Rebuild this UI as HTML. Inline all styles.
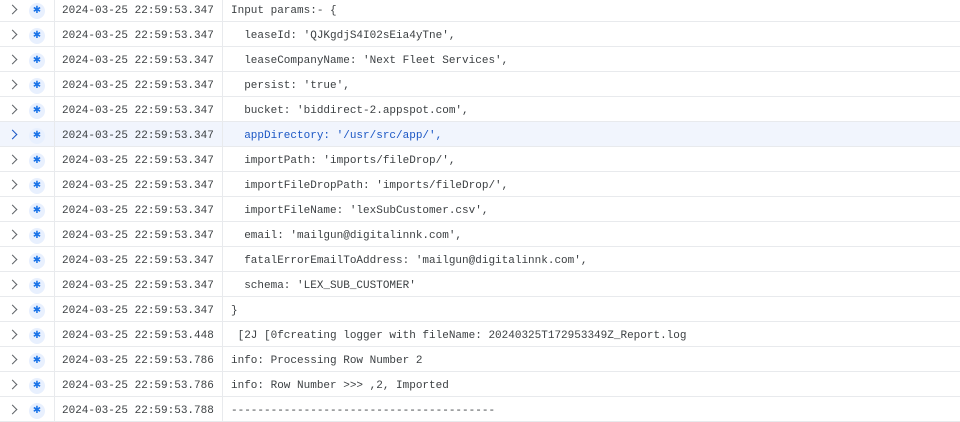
<!DOCTYPE html>
<html><head><style>
body{margin:0;width:960px;height:411px;overflow:hidden;background:#fff;font-family:"Liberation Mono",monospace;font-size:11px;color:#3c4043}
.r{position:absolute;left:0;width:960px;height:24px;border-bottom:1px solid #e8eaed}
.r.h{background:#f1f5fd}
.c{position:absolute;left:9px;top:9px;width:6px;height:6px;border-right:1.5px solid #5f6368;border-top:1.5px solid #5f6368;transform:rotate(45deg)}
.h .c{border-color:#1a56c4}
.i{position:absolute;left:29px;top:6px;width:16px;height:16px;border-radius:50%;background:#e8f0fe;color:#1a73e8;font-size:10px;line-height:16px;text-align:center;font-family:"DejaVu Sans",sans-serif}
.v1{position:absolute;left:54px;top:0;width:1px;height:24px;background:#e8eaed}
.v2{position:absolute;left:222px;top:0;width:1px;height:24px;background:#e8eaed}
.t{position:absolute;left:62px;top:8px;white-space:pre}
.m{position:absolute;left:231px;top:8px;white-space:pre}
.h .m{color:#1a56c4}
</style></head><body>
<div class="r" style="top:-3px"><div class="c"></div><div class="i">✱</div><div class="v1"></div><div class="v2"></div><div class="t">2024-03-25 22:59:53.347</div><div class="m">Input params:- {</div></div>
<div class="r" style="top:22px"><div class="c"></div><div class="i">✱</div><div class="v1"></div><div class="v2"></div><div class="t">2024-03-25 22:59:53.347</div><div class="m">  leaseId: 'QJKgdjS4I02sEia4yTne',</div></div>
<div class="r" style="top:47px"><div class="c"></div><div class="i">✱</div><div class="v1"></div><div class="v2"></div><div class="t">2024-03-25 22:59:53.347</div><div class="m">  leaseCompanyName: 'Next Fleet Services',</div></div>
<div class="r" style="top:72px"><div class="c"></div><div class="i">✱</div><div class="v1"></div><div class="v2"></div><div class="t">2024-03-25 22:59:53.347</div><div class="m">  persist: 'true',</div></div>
<div class="r" style="top:97px"><div class="c"></div><div class="i">✱</div><div class="v1"></div><div class="v2"></div><div class="t">2024-03-25 22:59:53.347</div><div class="m">  bucket: 'biddirect-2.appspot.com',</div></div>
<div class="r h" style="top:122px"><div class="c"></div><div class="i">✱</div><div class="v1"></div><div class="v2"></div><div class="t">2024-03-25 22:59:53.347</div><div class="m">  appDirectory: '/usr/src/app/',</div></div>
<div class="r" style="top:147px"><div class="c"></div><div class="i">✱</div><div class="v1"></div><div class="v2"></div><div class="t">2024-03-25 22:59:53.347</div><div class="m">  importPath: 'imports/fileDrop/',</div></div>
<div class="r" style="top:172px"><div class="c"></div><div class="i">✱</div><div class="v1"></div><div class="v2"></div><div class="t">2024-03-25 22:59:53.347</div><div class="m">  importFileDropPath: 'imports/fileDrop/',</div></div>
<div class="r" style="top:197px"><div class="c"></div><div class="i">✱</div><div class="v1"></div><div class="v2"></div><div class="t">2024-03-25 22:59:53.347</div><div class="m">  importFileName: 'lexSubCustomer.csv',</div></div>
<div class="r" style="top:222px"><div class="c"></div><div class="i">✱</div><div class="v1"></div><div class="v2"></div><div class="t">2024-03-25 22:59:53.347</div><div class="m">  email: 'mailgun@digitalinnk.com',</div></div>
<div class="r" style="top:247px"><div class="c"></div><div class="i">✱</div><div class="v1"></div><div class="v2"></div><div class="t">2024-03-25 22:59:53.347</div><div class="m">  fatalErrorEmailToAddress: 'mailgun@digitalinnk.com',</div></div>
<div class="r" style="top:272px"><div class="c"></div><div class="i">✱</div><div class="v1"></div><div class="v2"></div><div class="t">2024-03-25 22:59:53.347</div><div class="m">  schema: 'LEX_SUB_CUSTOMER'</div></div>
<div class="r" style="top:297px"><div class="c"></div><div class="i">✱</div><div class="v1"></div><div class="v2"></div><div class="t">2024-03-25 22:59:53.347</div><div class="m">}</div></div>
<div class="r" style="top:322px"><div class="c"></div><div class="i">✱</div><div class="v1"></div><div class="v2"></div><div class="t">2024-03-25 22:59:53.448</div><div class="m"> [2J [0fcreating logger with fileName: 20240325T172953349Z_Report.log</div></div>
<div class="r" style="top:347px"><div class="c"></div><div class="i">✱</div><div class="v1"></div><div class="v2"></div><div class="t">2024-03-25 22:59:53.786</div><div class="m">info: Processing Row Number 2</div></div>
<div class="r" style="top:372px"><div class="c"></div><div class="i">✱</div><div class="v1"></div><div class="v2"></div><div class="t">2024-03-25 22:59:53.786</div><div class="m">info: Row Number &gt;&gt;&gt; ,2, Imported</div></div>
<div class="r" style="top:397px"><div class="c"></div><div class="i">✱</div><div class="v1"></div><div class="v2"></div><div class="t">2024-03-25 22:59:53.788</div><div class="m">----------------------------------------</div></div>
</body></html>
